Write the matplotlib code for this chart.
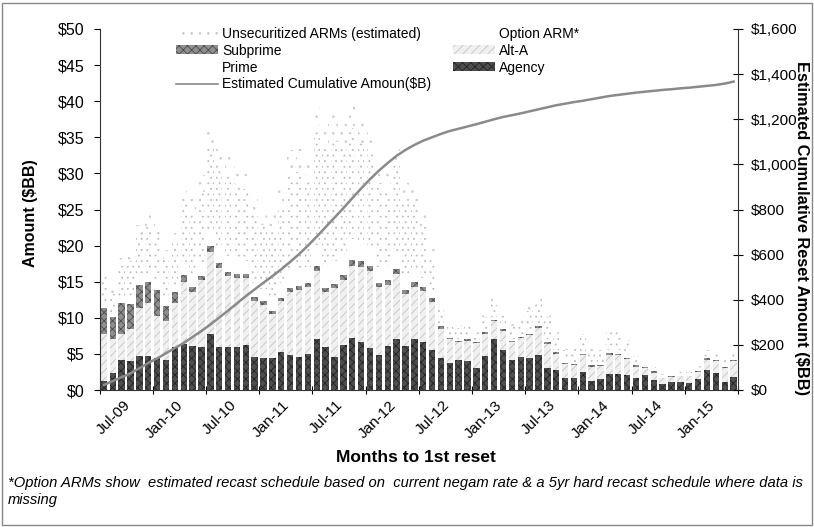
import matplotlib.pyplot as plt
import matplotlib.transforms as mtransforms
from matplotlib.patches import Patch, Rectangle
from matplotlib.lines import Line2D
from matplotlib.ticker import FuncFormatter, MultipleLocator
import numpy as np

plt.rcParams['font.family'] = ['Liberation Sans', 'DejaVu Sans']
plt.rcParams['hatch.linewidth'] = 0.6

# 72 months, Jul-09 .. Jun-15 ($BB per month)
tick_labels = ['Jul-09', 'Jan-10', 'Jul-10', 'Jan-11', 'Jul-11', 'Jan-12',
               'Jul-12', 'Jan-13', 'Jul-13', 'Jan-14', 'Jul-14', 'Jan-15']

agency = [1.3, 2.4, 4.2, 4.0, 4.7, 4.7, 4.4, 4.2, 6.0, 6.4, 6.1, 6.0,
          7.8, 5.9, 5.9, 5.9, 6.2, 4.6, 4.5, 4.5, 5.2, 4.8, 4.6, 5.0,
          7.0, 5.9, 4.6, 6.2, 7.2, 6.7, 5.8, 4.9, 6.1, 7.0, 6.1, 7.0,
          6.7, 5.6, 4.4, 3.7, 4.1, 4.0, 3.0, 4.7, 7.1, 5.5, 4.1, 4.6,
          4.5, 4.8, 3.1, 2.8, 1.7, 1.6, 2.5, 1.3, 1.5, 2.2, 2.2, 2.1,
          1.7, 2.1, 1.4, 0.9, 1.1, 1.1, 1.0, 1.5, 2.8, 2.3, 1.1, 1.8]

alt_a = [6.5, 4.7, 3.6, 4.5, 6.7, 7.4, 5.8, 5.3, 6.0, 8.5, 7.5, 9.2,
         11.3, 11.0, 9.9, 9.6, 9.3, 7.7, 7.3, 6.0, 7.1, 8.8, 9.3, 9.3,
         9.5, 7.7, 9.5, 9.0, 10.0, 10.4, 10.7, 9.3, 8.5, 9.1, 7.2, 7.3,
         7.0, 6.6, 4.1, 3.3, 2.5, 2.8, 3.5, 3.1, 2.4, 2.7, 2.5, 2.6,
         3.1, 3.8, 3.3, 2.2, 1.9, 1.8, 2.3, 1.9, 1.8, 2.7, 2.6, 2.2,
         1.5, 0.9, 1.0, 0.7, 0.7, 0.8, 0.9, 1.0, 1.4, 1.7, 1.9, 2.2]

subprime = [3.5, 3.0, 4.2, 3.4, 3.2, 2.9, 3.6, 2.2, 1.6, 1.0, 0.7, 0.6,
            0.9, 0.7, 0.6, 0.6, 0.5, 0.6, 0.5, 0.5, 0.5, 0.5, 0.5, 0.5,
            0.7, 0.5, 0.6, 0.7, 0.8, 0.8, 0.7, 0.6, 0.6, 0.6, 0.5, 0.6,
            0.5, 0.6, 0.3, 0.2, 0.2, 0.2, 0.2, 0.2, 0.2, 0.2, 0.2, 0.2,
            0.2, 0.2, 0.2, 0.2, 0.2, 0.2, 0.2, 0.2, 0.2, 0.2, 0.2, 0.2,
            0.2, 0.2, 0.2, 0.1, 0.1, 0.1, 0.1, 0.1, 0.2, 0.2, 0.2, 0.2]

prime = [0.8, 0.6, 0.9, 1.0, 1.1, 1.2, 1.2, 1.0, 1.1, 1.6, 1.6, 1.8,
         2.1, 2.1, 2.2, 2.0, 1.9, 1.9, 1.7, 1.8, 2.0, 2.5, 2.5, 2.2,
         2.9, 3.1, 3.1, 2.8, 2.9, 2.6, 2.5, 2.2, 2.0, 2.3, 2.0, 1.7,
         1.3, 0.9, 0.4, 0.3, 0.3, 0.3, 0.2, 0.3, 0.4, 0.3, 0.3, 0.4,
         0.5, 0.5, 0.5, 0.4, 0.3, 0.3, 0.4, 0.3, 0.3, 0.5, 0.5, 0.4,
         0.2, 0.1, 0.1, 0.1, 0.1, 0.1, 0.1, 0.1, 0.2, 0.1, 0.2, 0.1]

option_arm = [3.9, 2.6, 4.3, 4.9, 5.7, 6.4, 6.4, 5.4, 5.7, 8.3, 8.5, 9.8,
              11.3, 11.0, 11.4, 10.4, 10.0, 9.8, 8.8, 9.5, 10.6, 13.3, 13.3, 11.8,
              15.6, 16.4, 16.6, 14.9, 15.4, 13.7, 13.1, 11.7, 10.5, 12.2, 10.4, 9.2,
              7.1, 4.7, 2.2, 1.7, 1.5, 1.8, 1.3, 1.8, 2.2, 1.9, 1.7, 2.2,
              2.7, 2.8, 3.0, 2.2, 1.5, 1.7, 1.9, 1.6, 1.4, 2.6, 2.6, 1.9,
              1.1, 0.6, 0.5, 0.3, 0.3, 0.4, 0.4, 0.5, 0.8, 0.8, 0.8, 0.8]

unsecuritized = [1.0, 0.7, 1.1, 1.2, 1.4, 1.6, 1.6, 1.3, 1.4, 2.0, 2.1, 2.4,
                 2.8, 2.7, 2.8, 2.5, 2.4, 2.4, 2.2, 2.3, 2.6, 3.3, 3.3, 2.9,
                 3.8, 4.0, 4.0, 3.6, 3.7, 3.4, 3.2, 2.8, 2.5, 3.0, 2.5, 2.2,
                 1.7, 1.1, 0.6, 0.4, 0.4, 0.4, 0.3, 0.4, 0.5, 0.4, 0.4, 0.6,
                 0.7, 0.7, 0.7, 0.5, 0.4, 0.4, 0.5, 0.4, 0.3, 0.7, 0.6, 0.5,
                 0.3, 0.1, 0.1, 0.1, 0.1, 0.1, 0.1, 0.1, 0.2, 0.2, 0.2, 0.2]

cumulative = [22, 40, 57, 74, 96, 120, 140, 163, 186, 208, 235, 262,
              290, 321, 352, 384, 416, 446, 476, 505, 535, 568, 602, 640,
              680, 722, 764, 806, 850, 893, 934, 972, 1006, 1038, 1064, 1086,
              1105, 1120, 1135, 1148, 1158, 1168, 1178, 1189, 1200, 1210, 1218, 1226,
              1235, 1244, 1253, 1262, 1269, 1276, 1282, 1289, 1296, 1303, 1308, 1313,
              1318, 1322, 1326, 1330, 1333, 1337, 1340, 1344, 1348, 1352, 1358, 1367]

fig = plt.figure(figsize=(8.14, 5.27), dpi=100)
ax = fig.add_axes([99.5 / 814, 1 - 390 / 527, 638.5 / 814, 361 / 527])

x = np.arange(len(agency))
w = 0.72

# series styles (scan look: halftone textures)
styles = [
    (agency, '#4e4e4e', '#222222', 'xxxx'),
    (alt_a, '#f0f0f0', '#c4c4c4', '////'),
    (subprime, '#8e8e8e', '#4c4c4c', 'xxxx'),
    (prime, 'white', 'white', None),
    (option_arm, 'white', '#bcbcbc', '...'),
    (unsecuritized, 'white', '#cccccc', '..'),
]

bottom = np.zeros(len(agency))
for vals, fc, hc, hatch in styles:
    ax.bar(x, vals, w, bottom=bottom, color=fc, edgecolor=hc, hatch=hatch,
           linewidth=0, zorder=2)
    bottom += np.array(vals)

ax.set_xlim(-0.5, len(agency) - 0.5)
ax.set_ylim(0, 50)
ax.yaxis.set_major_locator(MultipleLocator(5))
ax.yaxis.set_major_formatter(FuncFormatter(lambda v, p: '$%d' % v))
ax.tick_params(axis='y', direction='out', length=4, labelsize=11.5, pad=7)

# ticks between categories every 6 months, labels on the month
ax.set_xticks(np.arange(-0.5, len(agency), 6))
ax.set_xticklabels([])
ax.tick_params(axis='x', direction='inout', length=6)
shift = mtransforms.ScaledTranslation(0.19, 0, fig.dpi_scale_trans)
for k, lab in enumerate(tick_labels):
    ax.text(k * 6, -0.022, lab, transform=ax.get_xaxis_transform() + shift,
            rotation=45, ha='right', va='top', rotation_mode='anchor', fontsize=11)

for s in ['top', 'right']:
    ax.spines[s].set_visible(False)
ax.spines['left'].set_color('#333333')
ax.spines['bottom'].set_color('#333333')

ax2 = ax.twinx()
ax2.set_ylim(0, 1600)
ax2.yaxis.set_major_locator(MultipleLocator(200))
ax2.yaxis.set_major_formatter(FuncFormatter(lambda v, p: '${:,.0f}'.format(v)))
ax2.tick_params(axis='y', direction='inout', length=7, labelsize=11, pad=6)
ax2.plot(x, cumulative, color='#8a8a8a', lw=1.8, zorder=3)
for s in ['top', 'left', 'bottom']:
    ax2.spines[s].set_visible(False)
ax2.spines['right'].set_color('#333333')

fig.text(30 / 814, 1 - 213 / 527, 'Amount ($BB)', rotation=90, ha='center', va='center',
         fontsize=11.5, fontweight='bold')
fig.text(802 / 814, 1 - 228 / 527, 'Estimated Cumulative Reset Amount ($BB)', rotation=270,
         ha='center', va='center', fontsize=11.8, fontweight='bold')
fig.text(416 / 814, 1 - 457 / 527, 'Months to 1st reset', ha='center', va='center',
         fontsize=12.5, fontweight='bold')
fig.text(8 / 814, 1 - 483 / 527,
         '*Option ARMs show  estimated recast schedule based on  current negam rate & a 5yr hard '
         'recast schedule where data is', ha='left', va='center', fontsize=10.6, style='italic')
fig.text(8 / 814, 1 - 500 / 527, 'missing', ha='left', va='center', fontsize=10.6, style='italic')

# legend: two columns
h_unsec = Patch(facecolor='white', edgecolor='#c8c8c8', hatch='..', linewidth=0)
h_sub = Patch(facecolor='#8e8e8e', edgecolor='#4c4c4c', hatch='xxxx', linewidth=0)
h_prime = Patch(facecolor='white', edgecolor='white', linewidth=0)
h_cum = Line2D([], [], color='#8a8a8a', lw=1.2)
h_opt = Patch(facecolor='white', edgecolor='white', linewidth=0)
h_alta = Patch(facecolor='#f0f0f0', edgecolor='#c4c4c4', hatch='////', linewidth=0)
h_ag = Patch(facecolor='#4e4e4e', edgecolor='#222222', hatch='xxxx', linewidth=0)
fig.legend([h_unsec, h_sub, h_prime, h_cum, h_opt, h_alta, h_ag],
           ['Unsecuritized ARMs (estimated)', 'Subprime', 'Prime',
            'Estimated Cumulative Amoun($B)', 'Option ARM*', 'Alt-A', 'Agency'],
           ncol=2, loc='upper left', bbox_to_anchor=(176 / 814, 1 - 27 / 527),
           frameon=False, fontsize=10, handlelength=3.0, handleheight=0.6,
           labelspacing=0.2, columnspacing=1.6, handletextpad=0.3, borderpad=0,
           borderaxespad=0)

fig.add_artist(Rectangle((0.002, 0.004), 0.996, 0.99, transform=fig.transFigure,
                         fill=False, edgecolor='#888888', lw=1))

fig.savefig('out.png', dpi=100)
